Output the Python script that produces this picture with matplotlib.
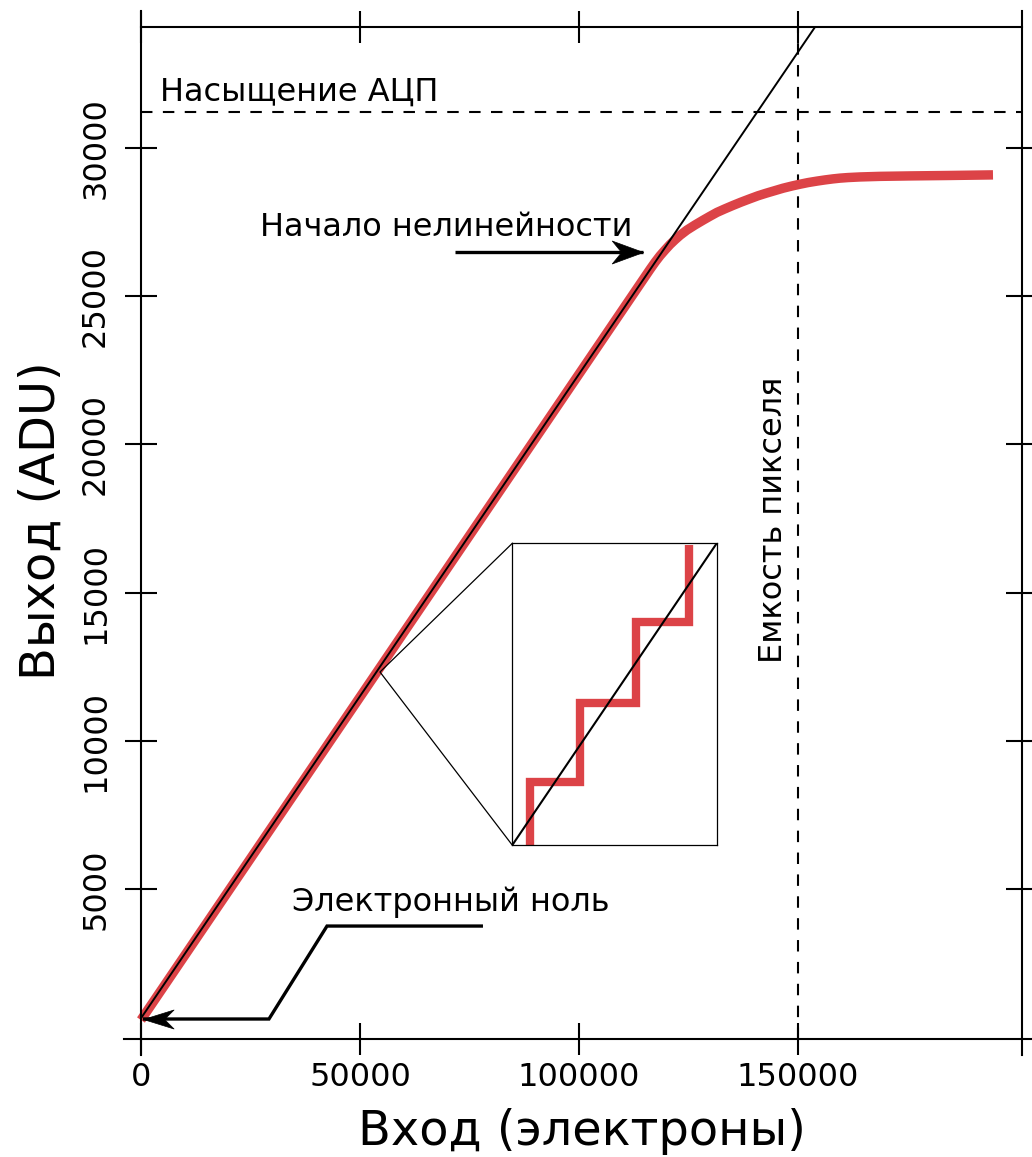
import matplotlib
matplotlib.use("Agg")
import matplotlib.pyplot as plt
from matplotlib.lines import Line2D

# ---------------------------------------------------------------------
# Данные: характеристика ПЗС, вход (электроны) -> выход (ADU)
# ---------------------------------------------------------------------
x_in = [0, 116210, 117350, 118490, 119640, 120780, 121920, 123060, 124660,
        126480, 128310, 129910, 131510, 133330, 135160, 136990, 139040,
        140870, 142690, 144750, 146580, 148630, 150460, 152280, 154340,
        156160, 157990, 159590, 161420, 164160, 168720, 175570, 184700,
        194520]
y_out = [580, 25900, 26140, 26360, 26555, 26740, 26900, 27050, 27230,
         27400, 27560, 27695, 27825, 27945, 28060, 28170, 28285,
         28385, 28470, 28560, 28640, 28715, 28775, 28830, 28880,
         28920, 28955, 28980, 29000, 29020, 29040, 29055, 29070,
         29090]

# идеальная линейная характеристика
lin_x = [0, 153900]
lin_y = [640, 34080]

adc_sat = 31200      # насыщение АЦП, ADU
full_well = 150000   # емкость пикселя, электроны

# ступеньки квантования во врезке (в долях окна)
step_x = [0.087, 0.087, 0.331, 0.331, 0.605, 0.605, 0.864, 0.864]
step_y = [0.0, 0.21, 0.21, 0.472, 0.472, 0.738, 0.738, 0.993]

# окно врезки (x0, y0, ширина, высота) и увеличиваемая точка кривой
zoom_box = [84770, 6480, 46670, 10180]
zoom_pt = [54570, 12320]

# стрелки подписей
nl_x = [71690, 114610]
nl_y = [26490, 26490]
zero_x = [78080, 42470, 29220, 460]
zero_y = [3750, 3750, 614, 614]

xticks = [0, 50000, 100000, 150000]
yticks = [5000, 10000, 15000, 20000, 25000, 30000]

RED = "#dc4347"
FS = 23

fig = plt.figure(figsize=(10.32, 11.57), dpi=100)
ax = fig.add_axes([0.1366, 0.1020, 0.8537, 0.8747])
ax.set_xlim(0, 201140)
ax.set_ylim(-60, 34080)

ax.plot(x_in, y_out, color=RED, lw=6.8, solid_capstyle="butt",
        solid_joinstyle="round", zorder=2, clip_on=False)
ax.plot(lin_x, lin_y, color="k", lw=1.4, zorder=3)

ax.axhline(adc_sat, color="k", lw=1.5, dashes=(5.5, 5), zorder=1)
ax.axvline(full_well, color="k", lw=1.5, dashes=(5.5, 5), zorder=1)

# рамка: линии выходят за углы осей
for sp in ax.spines.values():
    sp.set_visible(False)
ex, ey = 17 / 881, 16 / 1012
for xs, ys in [([0, 0], [-ey, 1 + ey]), ([1, 1], [-ey, 1 + ey]),
               ([-ex, 1 + ex], [0, 0]), ([0, 1], [1, 1])]:
    ax.add_line(Line2D(xs, ys, transform=ax.transAxes, color="k", lw=1.5,
                       clip_on=False))

ax.set_xticks(xticks)
ax.set_xticklabels([str(v) for v in xticks])
ax.set_yticks(yticks)
ax.set_yticklabels([str(v) for v in yticks])
ax.tick_params(axis="both", direction="inout", length=23, width=1.5,
               labelsize=FS, top=True, right=True)
ax.tick_params(axis="x", pad=5)
ax.tick_params(axis="y", pad=10, labelrotation=90)
for lab in ax.get_yticklabels():
    lab.set_va("center")

ax.set_xlabel("Вход (электроны)", fontsize=34.5)
ax.xaxis.set_label_coords(0.5, -0.068)
ax.set_ylabel("Выход (ADU)", fontsize=34.5)
ax.yaxis.set_label_coords(-0.087, 0.512)

# подписи
ax.text(4340, 31590, "Насыщение АЦП", fontsize=FS)
ax.text(27170, 27030, "Начало нелинейности", fontsize=FS)
ax.text(34480, 4260, "Электронный ноль", fontsize=FS)
ax.text(144500, 17450, "Емкость пикселя", rotation=90, ha="center",
        va="center", fontsize=FS)

# стрелки с вогнутыми наконечниками
head_r = [(0, 0), (-30, 11), (-21, 0), (-30, -11), (0, 0)]
head_l = [(0, 0), (29, 9), (20, 0), (29, -9), (0, 0)]
ax.plot(nl_x, nl_y, color="k", lw=2.4, solid_capstyle="butt", zorder=4)
ax.plot(nl_x[-1], nl_y[-1], marker=head_r, ms=45, color="k", mew=0.5,
        zorder=4)
ax.plot(zero_x, zero_y, color="k", lw=2.4, solid_capstyle="butt",
        solid_joinstyle="miter", zorder=4)
ax.plot(zero_x[-1], zero_y[-1], marker=head_l, ms=44, color="k", mew=0.5,
        zorder=4, clip_on=False)

# врезка с увеличенным участком: ступеньки АЦП
axins = ax.inset_axes(zoom_box, transform=ax.transData)
axins.set_xlim(0, 1)
axins.set_ylim(0, 1)
axins.set_xticks([])
axins.set_yticks([])
axins.plot(step_x, step_y, color=RED, lw=6, solid_joinstyle="miter",
           solid_capstyle="butt", zorder=2)
axins.plot([0, 1], [0, 1], color="k", lw=1.5, zorder=3)
for sp in axins.spines.values():
    sp.set_linewidth(0.9)

x0, y0, w, h = zoom_box
ax.plot([x0, zoom_pt[0], x0], [y0 + h, zoom_pt[1], y0], color="k", lw=0.9,
        zorder=3)

fig.savefig("out.png", dpi=100)
